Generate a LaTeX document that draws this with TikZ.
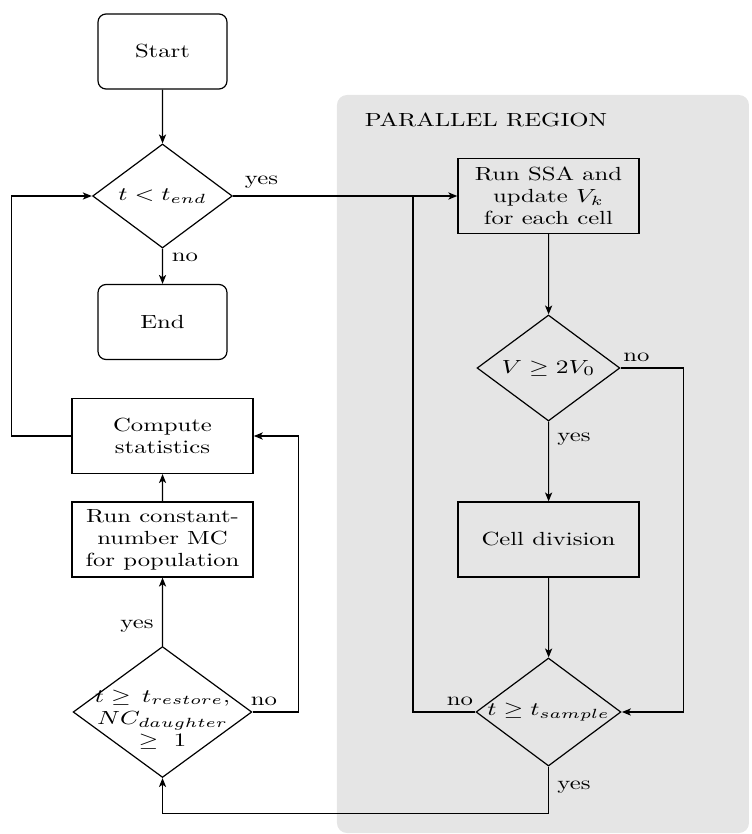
\RequirePackage{fix-cm}
\documentclass[tikz,border=0pt]{standalone}
\usepackage{amsmath}
\usepackage{xcolor}
\usepackage{tikz}
\usetikzlibrary{shapes.geometric, arrows.meta}

\tikzset{
  terminal/.style={draw, rectangle, rounded corners=4pt, minimum width=49.6pt, minimum height=37.5pt, align=center},
  process/.style={draw, rectangle, minimum width=69.6pt, minimum height=37.5pt, align=center},
  decision/.style={draw, diamond, inner sep=-2pt, minimum width=55pt, minimum height=53pt, align=center},
  answer/.style={inner sep=0pt}
}

\begin{document}
\begin{tikzpicture}[>={Stealth[length=4.5pt,width=3.6pt,inset=1.2pt]}, x={(0.3846pt,0)}, y={(0,-0.5pt)}, xscale=1.3, transform shape,
  line width=0.6pt, font=\fontsize{9.5}{11}\selectfont]
\useasboundingbox (0,0) rectangle (752,834);

% Parallel region
\fill[gray!20, rounded corners=5pt] (337,95) rectangle (749,833);
\node (region) at (486,120) {PARALLEL REGION};

% Main loop
\node[terminal] (start) at (162.5,51.5) {Start};
\node[decision, minimum width=53.8pt, minimum height=52pt] (tend) at (162.5,196) {$t<t_{end}$};
\node[terminal] (end) at (162.5,322) {End};
\node[process] (stats) at (162.5,436) {Compute\\statistics};
\node[process] (runmc) at (162.5,539.5) {Run constant-\\number MC\\for population};
\node[decision, inner sep=-6pt, minimum width=68.8pt, minimum height=65pt] (restore) at (162.5,712)
  {\rule{0pt}{14pt}$t\geq\, t_{restore},$\\$NC_{daughter}$\\$\geq\ 1$};

% Parallel part
\node[process] (ssa) at (548.5,196) {Run SSA and\\update $V_k$\\for each cell};
\node[decision] (vdiv) at (548.5,368) {$V\geq 2V_0$};
\node[process] (cell) at (548.5,539.5) {Cell division};
\node[decision, minimum width=55.8pt, minimum height=54pt] (sample) at (548.5,712) {$t\geq t_{sample}$};
\coordinate (join) at (413,196);

% Connections
\draw[->] (start) -- (tend);
\draw[->] (tend) -- (end);
\draw[->] (tend.east) -- (ssa.west);
\draw[->] (ssa) -- (vdiv);
\draw[->] (vdiv) -- (cell);
\draw[->] (vdiv.east) -- ++(63,0) |- (sample.east);
\draw[->] (cell) -- (sample);
\draw (sample.west) -| (join);
\draw[->] (sample.south) -- ++(0,47) -| (restore.south);
\draw[->] (restore.east) -- ++(46,0) |- (stats.east);
\draw[->] (restore) -- (runmc);
\draw[->] (runmc) -- (stats);
\draw[->] (stats.west) -- ++(-60,0) |- (tend.west);

% Labels
\node[answer] (tend-no) at (185,257) {no};
\node[answer] (tend-yes) at (261.5,182) {yes};
\node[answer] (vdiv-no) at (636.5,357) {no};
\node[answer] (vdiv-yes) at (574,439) {yes};
\node[answer] (sample-no) at (460,701) {no};
\node[answer] (sample-yes) at (574,787) {yes};
\node[answer] (restore-yes) at (137,626) {yes};
\node[answer] (restore-no) at (264,701) {no};

\end{tikzpicture}
\end{document}
